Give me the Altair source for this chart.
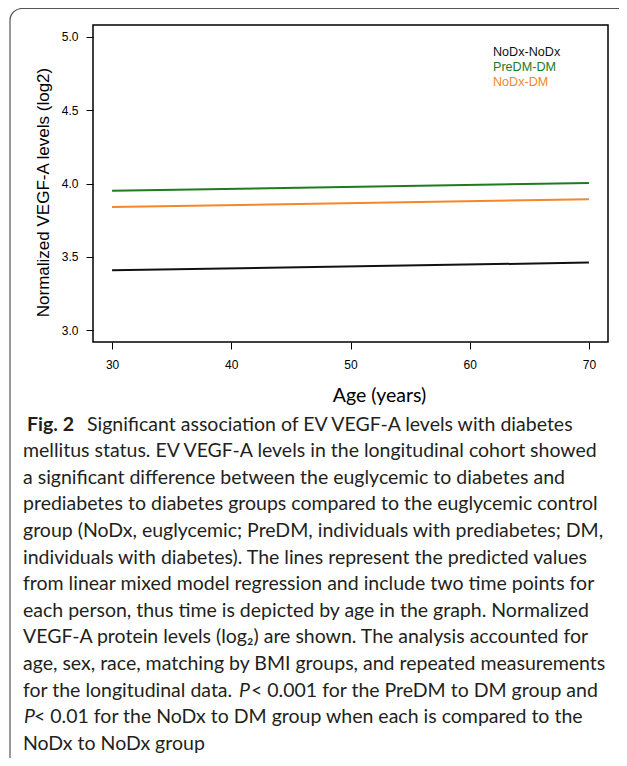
import altair as alt
import pandas as pd

# ---------------- data ----------------
ages = [30, 70]
groups = ["NoDx-NoDx", "PreDM-DM", "NoDx-DM"]
nodx_nodx = [3.409, 3.461]
predm_dm = [3.950, 4.004]
nodx_dm = [3.840, 3.893]
series = {"NoDx-NoDx": nodx_nodx, "PreDM-DM": predm_dm, "NoDx-DM": nodx_dm}
colors = ["#111111", "#1E7B1E", "#F5862A"]
x_ticks = [30, 40, 50, 60, 70]
y_ticks = [3.0, 3.5, 4.0, 4.5, 5.0]

fig_label = "Fig. 2"
caption_first = "Significant association of EV VEGF-A levels with diabetes"
caption_lines = [
    "mellitus status. EV VEGF-A levels in the longitudinal cohort showed",
    "a significant difference between the euglycemic to diabetes and",
    "prediabetes to diabetes groups compared to the euglycemic control",
    "group (NoDx, euglycemic; PreDM, individuals with prediabetes; DM,",
    "individuals with diabetes). The lines represent the predicted values",
    "from linear mixed model regression and include two time points for",
    "each person, thus time is depicted by age in the graph. Normalized",
    "VEGF-A protein levels (log\u2082) are shown. The analysis accounted for",
    "age, sex, race, matching by BMI groups, and repeated measurements",
]
caption_p1 = ["for the longitudinal data.", "P", "< 0.001 for the PreDM to DM group and"]
caption_p2 = ["P", "< 0.01 for the NoDx to DM group when each is compared to the"]
caption_last = "NoDx to NoDx group"

rows = []
for g in groups:
    for a, v in zip(ages, series[g]):
        rows.append({"age": a, "value": v, "group": g})
df = pd.DataFrame(rows)

W, H = 515, 317
CAP_FONT = "Lato"
CAP_SIZE = 19.5
AX_FONT = "Liberation Sans"
LINE0 = 399.5    # center of first caption line (relative to plot top)
STEP = 26.6
CAP_X = -70

x_enc = alt.X("age:Q", scale=alt.Scale(domain=[28.4, 71.6], nice=False, zero=False),
              axis=alt.Axis(values=x_ticks, format="d", grid=False, domain=False,
                            tickSize=7, tickColor="black", tickWidth=1,
                            labelFont=AX_FONT, labelFontSize=12, labelColor="black",
                            labelPadding=10,
                            title="Age (years)", titleFont=CAP_FONT, titleFontSize=19.5,
                            titleFontWeight="normal", titleColor="black",
                            titleX=286, titleY=53, titleAlign="center",
                            titleBaseline="middle"))
y_enc = alt.Y("value:Q", scale=alt.Scale(domain=[2.92, 5.08], nice=False, zero=False),
              axis=alt.Axis(values=y_ticks, format=".1f", grid=False, domain=False,
                            tickSize=7, tickColor="black", tickWidth=1,
                            labelFont=AX_FONT, labelFontSize=12, labelColor="black",
                            labelPadding=8,
                            title="Normalized VEGF-A levels (log2)", titleFont=AX_FONT,
                            titleFontSize=17, titleFontWeight="normal", titleColor="black",
                            titleAngle=270, titleX=-50, titleY=167, titleAlign="center",
                            titleBaseline="middle"))

lines = alt.Chart(df).mark_line(strokeWidth=2).encode(
    x=x_enc, y=y_enc,
    color=alt.Color("group:N", scale=alt.Scale(domain=groups, range=colors), legend=None),
    detail="group:N",
)

layers = [lines]

# legend as coloured text
for i, (g, c) in enumerate(zip(groups, colors)):
    layers.append(
        alt.Chart(alt.Data(values=[{"t": g}])).mark_text(
            align="left", baseline="middle", font=AX_FONT, fontSize=12.6, color=c
        ).encode(x=alt.value(400), y=alt.value(27 + 15 * i), text="t:N")
    )

def txt(s, x, row, weight="normal", style="normal"):
    return alt.Chart(alt.Data(values=[{"t": s}])).mark_text(
        align="left", baseline="middle", font=CAP_FONT, fontSize=CAP_SIZE,
        fontWeight=weight, fontStyle=style, color="#231f20"
    ).encode(x=alt.value(x), y=alt.value(LINE0 + STEP * row), text="t:N")

layers.append(txt(fig_label, CAP_X + 4, 0, weight="bold"))
layers.append(txt(caption_first, -6, 0))
for i, s in enumerate(caption_lines):
    layers.append(txt(s, CAP_X, i + 1))
r = len(caption_lines) + 1
layers.append(txt(caption_p1[0], CAP_X, r))
layers.append(txt(caption_p1[1], 146, r, style="italic"))
layers.append(txt(caption_p1[2], 158, r))
layers.append(txt(caption_p2[0], CAP_X + 1, r + 1, style="italic"))
layers.append(txt(caption_p2[1], CAP_X + 11, r + 1))
layers.append(txt(caption_last, CAP_X, r + 2))

# rounded frame around the figure
border = alt.Chart(alt.Data(values=[{"a": 1}])).mark_rect(
    fill=None, stroke="#555555", strokeWidth=1.2, cornerRadius=12
).encode(x=alt.value(-83), x2=alt.value(545), y=alt.value(-16.5), y2=alt.value(745))
layers.append(border)

chart = alt.layer(*layers).properties(
    width=W, height=H,
    autosize=alt.AutoSizeParams(type="none"),
    padding={"left": 85, "top": 17, "right": 11, "bottom": 416},
    background="white",
).configure_view(stroke="black", strokeWidth=1.5)

chart.save("out.html", embed_options={"renderer": "svg", "actions": False})
